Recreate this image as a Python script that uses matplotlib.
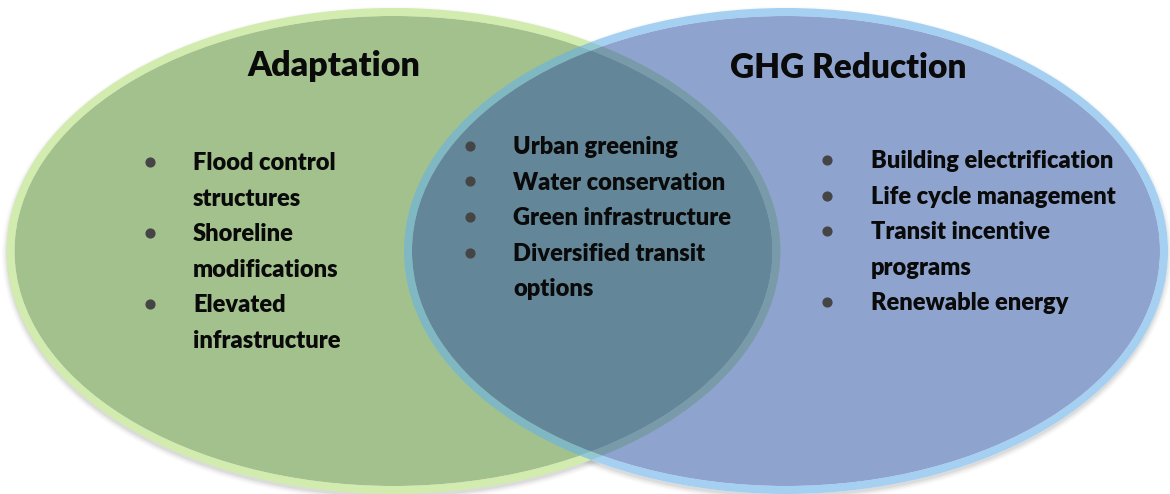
import matplotlib.pyplot as plt
from matplotlib.patches import Ellipse, Annulus

# ---- chart content ----
set_titles = ["Adaptation", "GHG Reduction"]

adaptation_items = [["Flood control", "structures"],
                    ["Shoreline", "modifications"],
                    ["Elevated", "infrastructure"]]

shared_items = [["Urban greening"],
                ["Water conservation"],
                ["Green infrastructure"],
                ["Diversified transit", "options"]]

ghg_items = [["Building electrification"],
             ["Life cycle management"],
             ["Transit incentive", "programs"],
             ["Renewable energy"]]

# ---- figure in pixel units ----
W, H = 1170, 494
fig = plt.figure(figsize=(W / 100, H / 100), dpi=100)
ax = fig.add_axes([0, 0, 1, 1])
ax.set_xlim(0, W)
ax.set_ylim(H, 0)
ax.axis('off')

plt.rcParams['font.family'] = ['Lato', 'DejaVu Sans']

ring = 8
green_c, green_a, green_b = (393.5, 251), 387, 243
blue_c, blue_a, blue_b = (786, 251), 382, 243

# soft drop shadow
for i, al in enumerate([0.05, 0.04, 0.03, 0.02]):
    for (cx, cy), a, b in [(green_c, green_a, green_b), (blue_c, blue_a, blue_b)]:
        ax.add_patch(Ellipse((cx, cy + 3), 2 * (a + i * 1.5), 2 * (b + i * 1.5),
                             facecolor='black', edgecolor='none', alpha=al, zorder=1))

# keep the shadow from showing through the transparent blue circle
ax.add_patch(Ellipse(blue_c, 2 * blue_a, 2 * blue_b, facecolor='white',
                     edgecolor='none', zorder=1.5))

# green circle: fill + light ring
ax.add_patch(Ellipse(green_c, 2 * (green_a - ring), 2 * (green_b - ring),
                     facecolor='#a2c18c', edgecolor='none', zorder=2))
ax.add_patch(Annulus(green_c, (green_a, green_b), ring,
                     facecolor='#d2ebae', edgecolor='none', zorder=3))

# blue circle: semi transparent fill + ring
ax.add_patch(Ellipse(blue_c, 2 * (blue_a - ring), 2 * (blue_b - ring),
                     facecolor=(43 / 255, 83 / 255, 164 / 255, 0.53),
                     edgecolor='none', zorder=4))
ax.add_patch(Annulus(blue_c, (blue_a, blue_b), ring,
                     facecolor=(105 / 255, 178 / 255, 232 / 255, 0.6),
                     edgecolor='none', zorder=5))

# titles
ax.text(334, 76, set_titles[0], fontsize=24.5, fontweight='heavy', ha='center',
        va='baseline', color='#0a0a0a', zorder=10)
ax.text(848, 78, set_titles[1], fontsize=24, fontweight='heavy', ha='center',
        va='baseline', color='#0a0a0a', zorder=10)


def draw_list(items, bullet_x, text_x, first_baseline, step=35.5):
    y = first_baseline
    for lines in items:
        ax.scatter([bullet_x], [y - 8], s=40, color='#454545', zorder=10)
        for line in lines:
            ax.text(text_x, y, line, fontsize=17, fontweight='heavy', ha='left',
                    va='baseline', color='#0a0a0a', zorder=10)
            y += step


draw_list(adaptation_items, 150, 193, 170)
draw_list(shared_items, 470, 513, 154)
draw_list(ghg_items, 827, 871, 168)

fig.savefig('out.png', dpi=100, facecolor='white')
